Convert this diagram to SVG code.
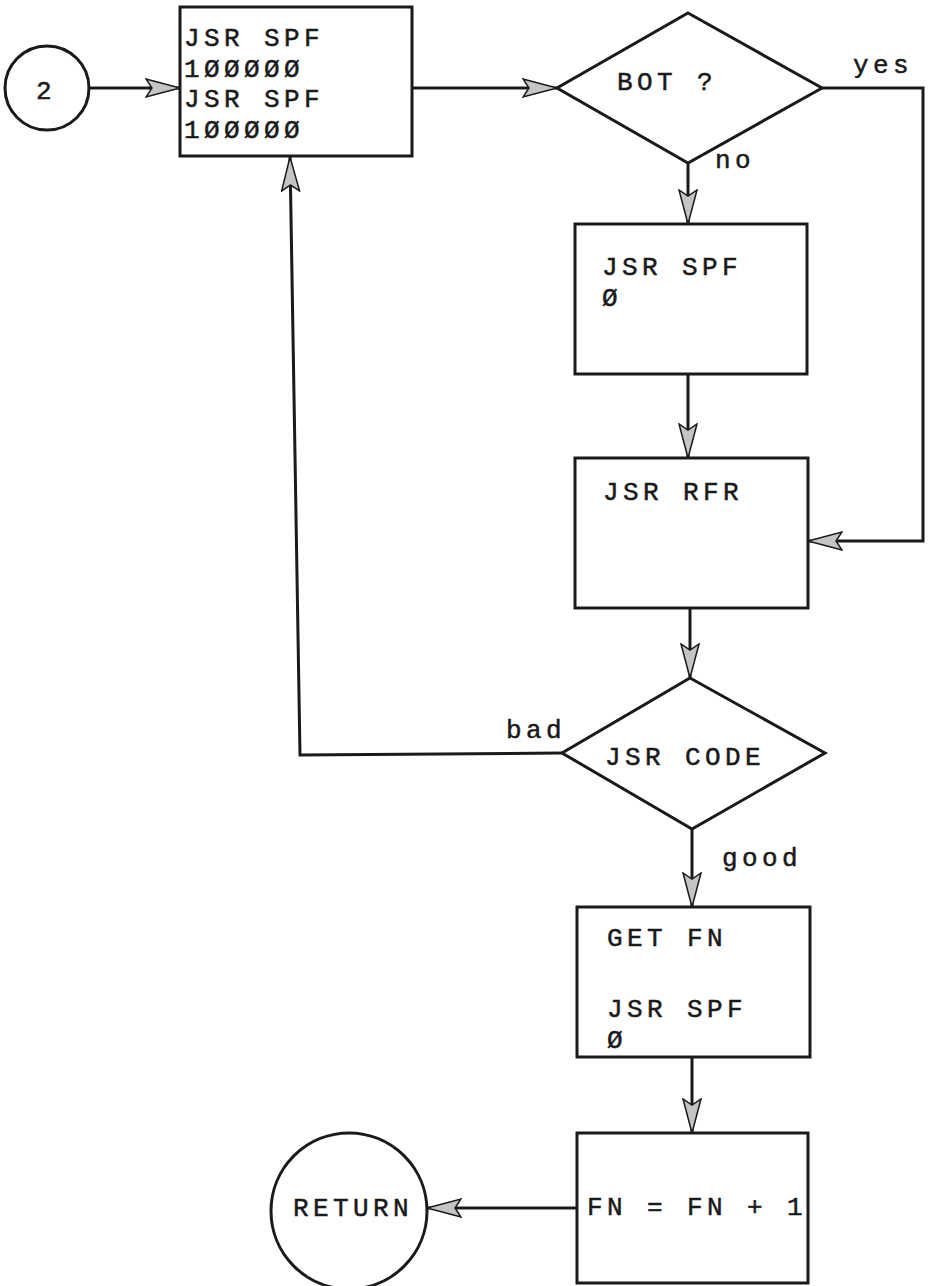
<svg xmlns="http://www.w3.org/2000/svg" width="929" height="1286" viewBox="0 0 929 1286">
  <style>
    .shape { fill: #ffffff; stroke: #1a1a1a; stroke-width: 3; }
    .conn { fill: none; stroke: #1a1a1a; stroke-width: 3; }
    .t { font-family: "Liberation Mono", "DejaVu Sans Mono", monospace; font-size: 26px; letter-spacing: 4.4px; fill: #1a1a1a; stroke: #1a1a1a; stroke-width: 0.5px; }
  </style>
  <defs>
    <marker id="arr" markerUnits="userSpaceOnUse" markerWidth="38" markerHeight="22" refX="35" refY="10" orient="auto">
      <path d="M1,1 L35,10 L1,19 L7,10 Z" fill="#c4c4c4" stroke="#1a1a1a" stroke-width="1.5"/>
    </marker>
  </defs>
  <rect width="929" height="1286" fill="#ffffff"/>

  <g id="connectors">
    <path class="conn" d="M90,88 H180" marker-end="url(#arr)"/>
    <path class="conn" d="M412,88 H557" marker-end="url(#arr)"/>
    <path class="conn" d="M688,163 V224" marker-end="url(#arr)"/>
    <path class="conn" d="M822,88 H923 V541 H808" marker-end="url(#arr)"/>
    <path class="conn" d="M688,374 V458" marker-end="url(#arr)"/>
    <path class="conn" d="M690,608 V678" marker-end="url(#arr)"/>
    <path class="conn" d="M562,753 L300,755 L290,157" marker-end="url(#arr)"/>
    <path class="conn" d="M692,829 V907" marker-end="url(#arr)"/>
    <path class="conn" d="M692,1057 V1133" marker-end="url(#arr)"/>
    <path class="conn" d="M577,1208 H427" marker-end="url(#arr)"/>
    <text class="t" x="853" y="73">yes</text>
    <text class="t" x="715" y="168">no</text>
    <text class="t" x="506" y="738">bad</text>
    <text class="t" x="722" y="866">good</text>
  </g>

  <g id="start">
    <circle class="shape" cx="47" cy="88" r="42"/>
    <text class="t" x="46" y="99" text-anchor="middle" letter-spacing="0" font-size="28">2</text>
  </g>

  <g id="box1">
    <rect class="shape" x="180" y="7" width="232" height="149"/>
    <text class="t" x="184" y="46">JSR SPF</text>
    <text class="t" x="184" y="77">1ØØØØØ</text>
    <text class="t" x="184" y="107">JSR SPF</text>
    <text class="t" x="184" y="138">1ØØØØØ</text>
  </g>

  <g id="bot">
    <polygon class="shape" points="688,13 822,88 688,163 557,88"/>
    <text class="t" x="617" y="90">BOT ?</text>
  </g>

  <g id="box2">
    <rect class="shape" x="575" y="224" width="232" height="150"/>
    <text class="t" x="602" y="275">JSR SPF</text>
    <text class="t" x="602" y="306">Ø</text>
  </g>

  <g id="box3">
    <rect class="shape" x="575" y="458" width="233" height="150"/>
    <text class="t" x="603" y="500">JSR RFR</text>
  </g>

  <g id="code">
    <polygon class="shape" points="690,678 825,753 692,829 562,753"/>
    <text class="t" x="605" y="765">JSR CODE</text>
  </g>

  <g id="box4">
    <rect class="shape" x="577" y="907" width="233" height="150"/>
    <text class="t" x="607" y="946">GET FN</text>
    <text class="t" x="607" y="1017">JSR SPF</text>
    <text class="t" x="607" y="1048">Ø</text>
  </g>

  <g id="box5">
    <rect class="shape" x="577" y="1133" width="231" height="150"/>
    <text class="t" x="587" y="1215">FN = FN + 1</text>
  </g>

  <g id="return">
    <circle class="shape" cx="349" cy="1211" r="78"/>
    <text class="t" x="293" y="1216">RETURN</text>
  </g>
</svg>
